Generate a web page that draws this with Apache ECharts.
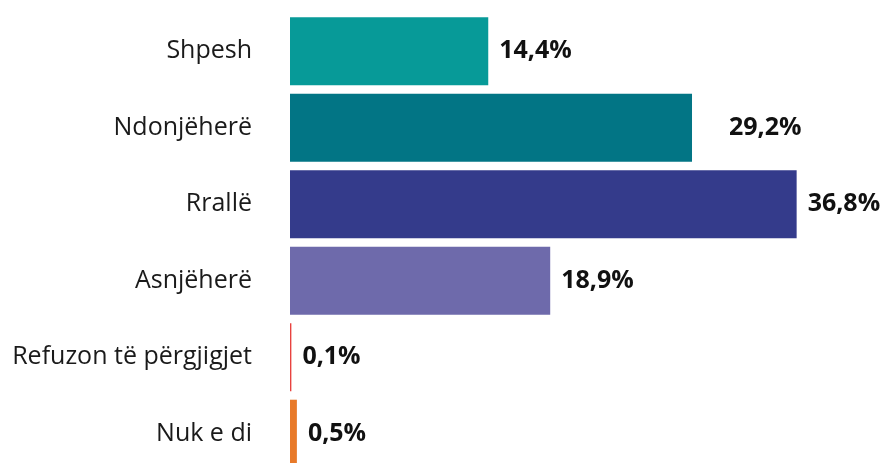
<!DOCTYPE html>
<html><head><meta charset="utf-8">
<script src="https://cdn.jsdelivr.net/npm/echarts@6/dist/echarts.min.js"></script>
<style>html,body{margin:0;padding:0;background:#fff;overflow:hidden}#c{width:882px;height:472px}</style>
</head><body><div id="c"></div>
<script>
const categories = ["Shpesh", "Ndonjëherë", "Rrallë", "Asnjëherë", "Refuzon të përgjigjet", "Nuk e di"];
const values = [14.4, 29.2, 36.8, 18.9, 0.1, 0.5];
const colors = ["#079a98", "#027585", "#343b8b", "#6e6aab", "#e8423f", "#e87a2a"];
const labelOffsets = [[0,0],[26,0],[0,0],[0,0],[0,0],[0,0]];

const chart = echarts.init(document.getElementById('c'), null, {renderer:'canvas'});
chart.setOption({
  animation:false,
  grid:{left:290, width:592, top:13, bottom:0, containLabel:false},
  xAxis:{type:'value', min:0, max:43, show:false},
  yAxis:{type:'category', inverse:true, data:categories,
    axisLine:{show:false}, axisTick:{show:false},
    axisLabel:{margin:38, color:'#1a1a1a', fontSize:25, fontFamily:'Open Sans'}},
  series:[{type:'bar', barCategoryGap:'11%',
    data: values.map((v,i)=>({value:v, itemStyle:{color:colors[i]},
      label:{offset:labelOffsets[i]}})),
    label:{show:true, position:'right', distance:11, color:'#111', fontSize:25, fontWeight:'bold', fontFamily:'Open Sans',
      formatter:p=>p.value.toFixed(1).replace('.',',')+'%'}}]
});
</script></body></html>
